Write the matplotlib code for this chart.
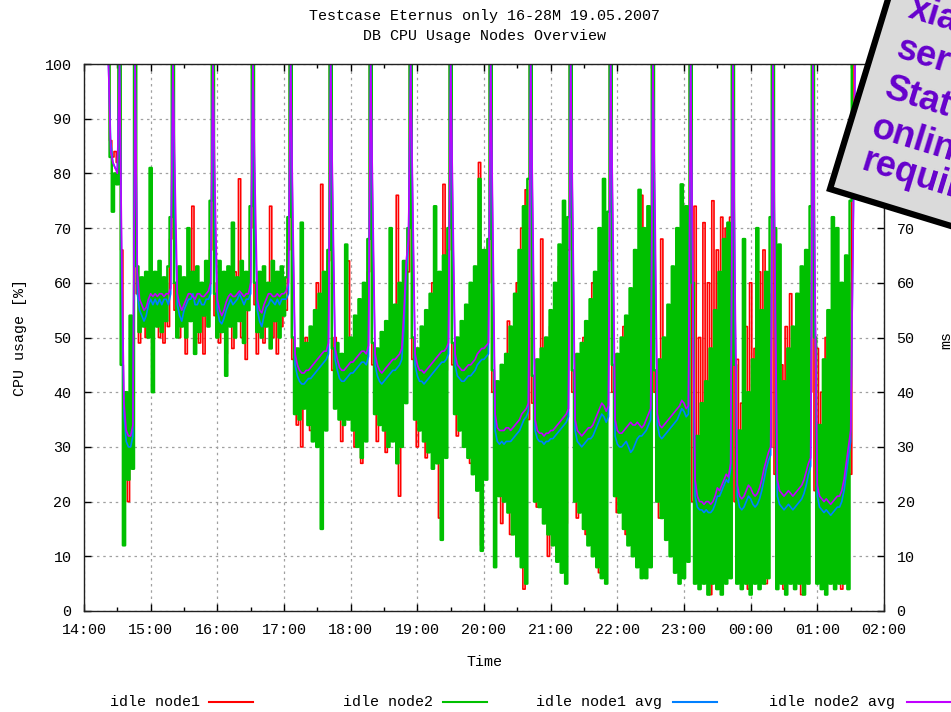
import numpy as np
import matplotlib
matplotlib.use("Agg")
import matplotlib.pyplot as plt
from matplotlib.lines import Line2D
from matplotlib.patches import Polygon

# DATA (minutes after 14:00, one sample every 2 minutes starting 14:22)
start_min = 22
step_min = 2

hour_labels = ["14:00", "15:00", "16:00", "17:00", "18:00", "19:00", "20:00",
               "21:00", "22:00", "23:00", "00:00", "01:00", "02:00"]

node1_idle = [
    100, 86, 83, 84, 82, 100,
    66, 28, 38, 20, 30, 44, 100,
    58, 49, 57, 55, 50, 59, 54, 49, 58, 56, 50, 57, 49, 60, 52, 68, 100,
    55, 58, 50, 60, 54, 47, 59, 55, 74, 52, 57, 49, 60, 47, 58, 55, 66, 100,
    54, 60, 49, 58, 52, 47, 60, 56, 48, 62, 55, 79, 50, 57, 46, 60, 70, 100,
    56, 47, 58, 55, 49, 60, 55, 74, 50, 57, 47, 59, 52, 58, 55, 66, 100,
    46, 40, 34, 45, 30, 42, 50, 38, 33, 47, 36, 60, 40, 78, 42, 58, 64, 100,
    44, 50, 38, 42, 31, 46, 38, 64, 35, 48, 30, 44, 52, 27, 46, 58, 62, 100,
    45, 40, 31, 47, 36, 44, 29, 52, 35, 45, 38, 76, 21, 48, 40, 50, 62, 100,
    46, 41, 30, 48, 36, 45, 28, 51, 34, 60, 40, 48, 17, 55, 78, 44, 66, 100,
    45, 40, 32, 47, 36, 52, 31, 48, 27, 58, 35, 45, 82, 12, 50, 62, 60, 100,
    40, 30, 21, 38, 16, 44, 22, 53, 14, 47, 25, 60, 12, 70, 4, 77, 35, 100,
    38, 30, 19, 41, 68, 24, 45, 10, 52, 20, 58, 13, 63, 9, 55, 16, 66, 100,
    40, 28, 17, 43, 22, 50, 14, 46, 25, 60, 11, 55, 7, 68, 10, 58, 64, 100,
    40, 30, 18, 44, 23, 52, 14, 48, 20, 57, 12, 62, 9, 76, 15, 55, 8, 66, 100,
    40, 29, 17, 68, 22, 45, 15, 52, 12, 58, 9, 64, 11, 60, 20, 65, 100,
    20, 74, 8, 50, 12, 71, 6, 60, 3, 75, 10, 66, 5, 72, 14, 70, 8, 72, 100,
    20, 46, 7, 38, 12, 52, 4, 60, 10, 48, 8, 62, 14, 66, 5, 58, 30, 100,
    25, 55, 9, 45, 4, 52, 12, 58, 6, 48, 10, 56, 3, 60, 15, 50, 40, 100,
    22, 48, 8, 40, 4, 50, 12, 44, 6, 55, 10, 48, 4, 58, 9, 60, 25, 90, 100,
]

node2_idle = [
    100, 83, 73, 80, 78, 100,
    45, 12, 40, 24, 54, 26, 100,
    63, 51, 61, 52, 62, 50, 81, 40, 62, 52, 64, 51, 61, 53, 63, 72, 100,
    60, 50, 63, 52, 61, 50, 70, 53, 62, 47, 63, 51, 60, 54, 64, 52, 75, 100,
    58, 50, 64, 51, 62, 43, 63, 52, 71, 50, 61, 53, 64, 49, 62, 55, 74, 100,
    60, 51, 62, 50, 63, 52, 60, 48, 64, 53, 62, 50, 63, 54, 61, 72, 100,
    50, 36, 48, 35, 71, 37, 49, 34, 52, 31, 55, 30, 58, 15, 62, 33, 66, 100,
    48, 37, 49, 35, 47, 34, 67, 35, 50, 33, 54, 30, 57, 28, 60, 31, 68, 100,
    49, 36, 48, 34, 51, 33, 53, 30, 70, 31, 56, 27, 60, 30, 64, 38, 70, 100,
    50, 35, 48, 33, 52, 31, 55, 29, 58, 26, 74, 27, 62, 13, 65, 28, 70, 100,
    49, 36, 50, 33, 53, 30, 56, 28, 60, 25, 63, 22, 79, 11, 66, 24, 68, 100,
    44, 8, 42, 21, 45, 20, 47, 18, 52, 14, 58, 10, 66, 8, 74, 5, 79, 100,
    43, 20, 46, 19, 48, 16, 50, 14, 55, 12, 60, 9, 67, 7, 75, 5, 72, 100,
    44, 20, 47, 18, 49, 15, 53, 12, 57, 10, 62, 8, 70, 6, 79, 5, 73, 100,
    45, 21, 47, 18, 50, 15, 54, 12, 59, 10, 66, 8, 77, 6, 70, 6, 74, 8, 100,
    44, 20, 46, 17, 50, 13, 56, 10, 63, 7, 70, 5, 78, 6, 74, 9, 100,
    60, 5, 32, 4, 38, 5, 42, 3, 48, 5, 55, 4, 62, 3, 68, 5, 71, 6, 100,
    45, 5, 33, 4, 68, 5, 40, 3, 46, 5, 70, 4, 55, 5, 62, 6, 72, 100,
    70, 4, 67, 5, 42, 3, 48, 5, 52, 4, 58, 5, 63, 3, 66, 5, 74, 100,
    50, 5, 34, 4, 46, 3, 55, 5, 72, 4, 70, 5, 60, 5, 65, 4, 75, 100, 100,
]

node1_avg = [
    100, 86, 82, 81, 80.5, 100,
    60, 36, 31, 30, 30, 32, 100,
    58, 55, 54, 53, 54, 56, 57, 56, 57, 56, 57, 56, 57, 57, 56, 58, 100,
    72, 56, 54, 53, 55, 56, 57, 57, 58, 56, 56, 57, 56, 56, 57, 57, 58, 100,
    70, 55, 53, 52.5, 53.5, 55, 56, 57, 56, 56.5, 57, 58, 57, 56, 57, 57, 58, 100,
    71, 55, 53, 52, 54, 55.5, 56, 57, 56.5, 56, 57, 56, 57, 57, 57, 58, 100,
    68, 45, 43, 42, 41.5, 41.5, 42, 42.5, 42.5, 43, 43.5, 44, 44.5, 45, 45.5, 46, 47, 100,
    70, 46, 44, 42.5, 42, 42, 42.5, 43, 43.5, 43.5, 44, 44.5, 45, 45.5, 45.5, 45, 46.5, 100,
    69, 45, 43, 42, 41.5, 42, 42.5, 43, 43.5, 44, 44, 44.5, 45, 46, 52, 62, 67, 100,
    70, 45, 43, 42, 42, 41.5, 42, 42.5, 43, 43.5, 44, 44.5, 45, 45.5, 45.5, 46, 47, 100,
    69, 45, 43, 42.5, 42, 42, 42.5, 43, 43, 43.5, 44, 45, 45.5, 46, 46, 46.5, 47, 100,
    65, 33, 31, 30.5, 31, 30.5, 31, 31, 31, 31.5, 32, 32.5, 33, 34, 35, 35.5, 36.5, 100,
    66, 33, 31.5, 31, 31, 30.5, 31, 31, 31.5, 31.5, 32, 32.5, 33, 33.5, 34, 34.5, 35.5, 100,
    66, 33, 31, 30.5, 30, 30.5, 31, 31.5, 31.5, 32, 33, 34, 35, 36, 35.5, 34.5, 35.5, 100,
    66, 32, 30.5, 30, 30, 30.5, 31, 30, 29, 29.5, 30.5, 31.5, 32, 32, 32.5, 33, 34, 35, 100,
    66, 34, 32, 31.5, 32, 32.5, 33, 33.5, 34, 34.5, 35, 36, 37, 36.5, 35.5, 36, 100,
    55, 21, 19, 18.5, 18.5, 18, 18.5, 18, 18, 18.5, 19.5, 21, 21, 22, 23, 24, 23.5, 26, 100,
    54, 21, 19, 18.5, 19, 20, 21, 20.5, 19.5, 19, 19.5, 20.5, 22, 24, 26, 27.5, 28.5, 100,
    55, 21, 19.5, 19, 18.5, 19, 19.5, 19, 18.5, 19, 19.5, 20, 20.5, 21.5, 23, 25, 26.5, 100,
    54, 21, 19, 18.5, 18, 18.5, 18, 17.5, 18, 18.5, 19, 19, 20, 22, 25, 28, 31, 65, 100,
]

node2_avg = [
    100, 84, 82, 81, 80, 100,
    65, 38, 33, 32, 32, 34, 100,
    62, 57, 56, 55, 55.5, 57, 58, 57.5, 58, 57.5, 58, 58, 57.5, 58, 58, 59, 100,
    78, 58, 56, 55, 56, 57, 58, 58, 57.5, 57, 58, 58, 57.5, 57.5, 58, 58.5, 60, 100,
    76, 57, 55, 54, 55, 56.5, 57.5, 58, 57.5, 57.5, 58, 58.5, 58, 57.5, 58, 58, 60, 100,
    77, 57, 55, 54.5, 56, 57, 58, 58, 57.5, 57.5, 58, 57.5, 58, 58, 58.5, 60, 100,
    72, 47, 45, 44, 43.5, 43.5, 44, 44, 44.5, 45, 45.5, 46, 46.5, 47, 47.5, 47.5, 49, 100,
    74, 48, 46, 44.5, 44, 44, 44.5, 45, 45.5, 45.5, 46, 46.5, 47, 47.5, 47.5, 47, 48.5, 100,
    73, 47, 45, 44, 43.5, 44, 44.5, 45, 45.5, 46, 46, 46.5, 47, 48, 55, 64, 68, 100,
    74, 47, 45, 44, 44, 43.5, 44, 44.5, 45, 45.5, 46, 46.5, 47, 47.5, 47.5, 48, 49, 100,
    73, 47, 45, 44.5, 44, 44, 44.5, 45, 45, 45.5, 46, 47, 47.5, 48, 48, 48.5, 49, 100,
    70, 36, 33.5, 33, 33, 33, 33.5, 33.5, 33, 33.5, 34, 34.5, 35, 36, 36.5, 37, 38, 100,
    72, 35, 33, 32.5, 32.5, 32, 32.5, 32.5, 33, 33, 33.5, 34, 34.5, 35, 35.5, 36, 37, 100,
    71, 35, 33, 32.5, 32, 32.5, 33, 33.5, 33.5, 34, 35, 36, 37, 38, 37.5, 36.5, 37.5, 100,
    72, 35, 33, 32.5, 32.5, 33, 33.5, 34, 34.5, 34, 34, 34.5, 34, 33.5, 34, 35, 36, 37, 100,
    72, 36, 34, 33.5, 34, 34.5, 35, 35.5, 36, 36.5, 37, 37.5, 38.5, 38, 37, 37.5, 100,
    60, 24, 21, 20, 20, 19.5, 20, 20, 19.5, 20, 21, 22.5, 22, 23, 24, 25, 24.5, 27, 100,
    58, 23, 21, 20.5, 21, 22, 23, 22.5, 21.5, 21, 21.5, 22.5, 24, 26, 27.5, 29, 30, 100,
    60, 24, 22, 21.5, 21, 21.5, 22, 21.5, 21, 21.5, 22, 22.5, 23, 24, 25.5, 27, 28, 100,
    58, 23, 21, 20.5, 20, 20.5, 20, 19.5, 20, 20.5, 21, 21, 22, 24, 27, 30, 33, 65, 100,
]

series_labels = ["idle node1", "idle node2", "idle node1 avg", "idle node2 avg"]
series_colors = ["#ff0000", "#00c000", "#0080ff", "#c000ff"]

note_lines = ["xian", "server", "Status", "online", "required"]

# FIGURE
W, H = 951, 712
plt.rcParams["font.family"] = "Liberation Mono"
plt.rcParams["font.size"] = 10.8

fig = plt.figure(figsize=(W / 100, H / 100), dpi=100)
ax = fig.add_axes([84 / W, 1 - 611 / H, 800 / W, 547 / H])

series = [node1_idle, node2_idle, node1_avg, node2_avg]
widths = [1.2, 1.75, 1.2, 1.2]
styles = ["steps-mid", "steps-mid", "default", "default"]
for values, color, lw, ds in zip(series, series_colors, widths, styles):
    t = start_min + step_min * np.arange(len(values))
    ax.plot(t, values, color=color, lw=lw, drawstyle=ds, snap=False)

ax.set_xlim(0, 720)
ax.set_ylim(0, 100)
ax.set_xticks(np.arange(0, 721, 60))
ax.set_xticklabels(hour_labels)
ax.set_xticks(np.arange(30, 720, 60), minor=True)
ax.set_yticks(np.arange(0, 101, 10))

ax.set_axisbelow(True)
ax.grid(True, which="major", color="#a0a0a0", linestyle=(0, (2, 3)), lw=0.9)

ax.tick_params(which="major", direction="in", length=5, width=1,
               top=True, right=True, labelright=True, pad=9)
ax.tick_params(which="minor", direction="in", length=3, width=1,
               top=True, bottom=True)
for spine in ax.spines.values():
    spine.set_linewidth(1.0)
    spine.set_color("#202020")

# TEXTS
fig.text(484 / W, 1 - 16 / H, "Testcase Eternus only 16-28M 19.05.2007",
         ha="center", va="center")
fig.text(484 / W, 1 - 36 / H, "DB CPU Usage Nodes Overview",
         ha="center", va="center")
fig.text(484 / W, 1 - 662 / H, "Time", ha="center", va="center")
fig.text(20 / W, 1 - 338 / H, "CPU usage [%]", rotation=90,
         ha="center", va="center")
fig.text(946 / W, 1 - 340 / H, "ms", rotation=90, ha="center", va="center")

# LEGEND
text_right = [200, 433, 662, 895]
line_start = [209, 443, 673, 907]
for label, color, xr, xs in zip(series_labels, series_colors, text_right, line_start):
    fig.text(xr / W, 1 - 702 / H, label, ha="right", va="center")
    fig.add_artist(Line2D([xs / W, (xs + 44) / W], [1 - 702 / H, 1 - 702 / H],
                          transform=fig.transFigure, color=color, lw=1.5))

# NOTE BOX (rotated call-out in the corner)
ang = np.deg2rad(-17)
right_dir = np.array([np.cos(ang), np.sin(ang)])
up_dir = np.array([-np.sin(ang), np.cos(ang)])
corner = np.array([830.0, H - 189.0])
pts = [corner, corner + 420 * right_dir, corner + 420 * right_dir + 420 * up_dir,
       corner + 420 * up_dir]
pts = [(p[0] / W, p[1] / H) for p in pts]
fig.add_artist(Polygon(pts, closed=True, transform=fig.transFigure,
                       facecolor="#dadada", edgecolor="black", lw=4.5, zorder=10))

note_pos = [(907, 17), (895, 57), (883, 97), (870, 136), (860, 169)]
for s, (x, y) in zip(note_lines, note_pos):
    fig.text(x / W, 1 - y / H, s, rotation=-17, rotation_mode="anchor",
             ha="left", va="baseline", fontsize=26, fontweight="bold",
             family="Liberation Sans", color="#6600cc", zorder=11)

fig.savefig("out.png", dpi=100)
